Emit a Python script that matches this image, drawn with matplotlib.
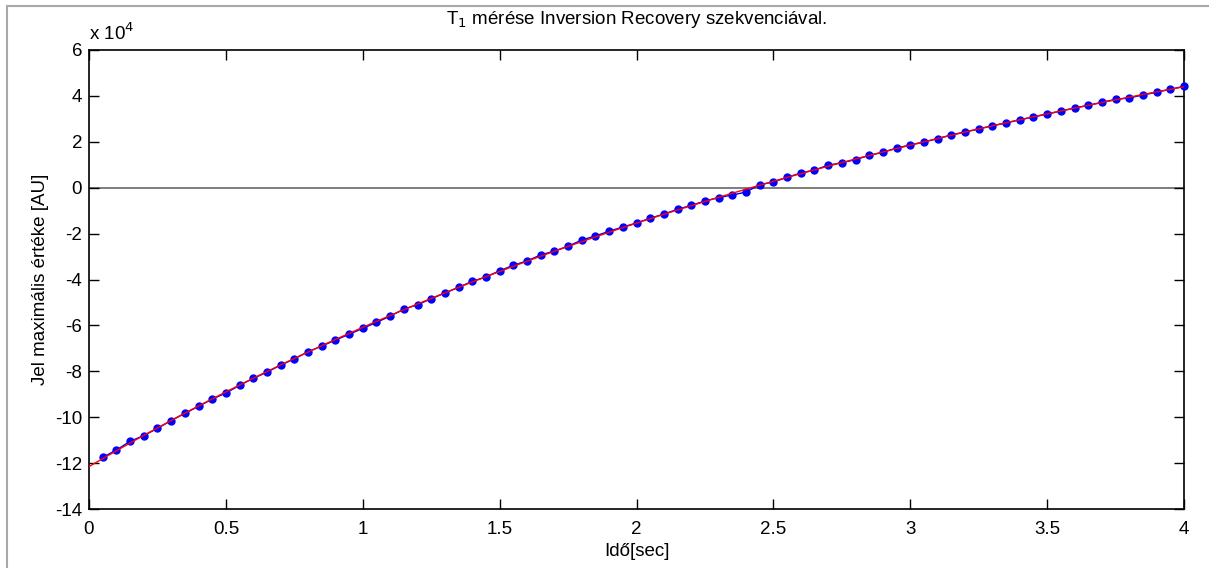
import numpy as np
import matplotlib
matplotlib.use("Agg")
import matplotlib.pyplot as plt
from matplotlib.ticker import FuncFormatter
from matplotlib.patches import Rectangle

plt.rcParams['font.family'] = ['Liberation Sans', 'DejaVu Sans']

# Mérési idők [sec] és a jel maximális értéke [AU]
ido = np.round(np.arange(1, 81) * 0.05, 2)
jel = np.array([
    -11.75, -11.43, -11.05, -10.80, -10.49, -10.15, -9.83, -9.53, -9.21, -8.95,
    -8.61, -8.31, -8.04, -7.73, -7.46, -7.15, -6.90, -6.64, -6.39, -6.13,
    -5.87, -5.60, -5.29, -5.10, -4.84, -4.59, -4.34, -4.08, -3.89, -3.62,
    -3.38, -3.19, -2.93, -2.76, -2.55, -2.28, -2.10, -1.90, -1.71, -1.54,
    -1.33, -1.15, -0.94, -0.77, -0.58, -0.43, -0.32, -0.19, 0.13, 0.25,
    0.45, 0.64, 0.77, 0.98, 1.09, 1.22, 1.41, 1.54, 1.73, 1.86,
    1.99, 2.14, 2.30, 2.43, 2.56, 2.70, 2.82, 2.96, 3.08, 3.21,
    3.34, 3.47, 3.59, 3.72, 3.85, 3.91, 4.04, 4.16, 4.29, 4.42,
]) * 1e4

# Illesztés: S(t) = A - B*exp(-t/T1), T1 rácson keresve, A és B legkisebb négyzetekkel
best = None
for T1 in np.linspace(0.5, 20, 4000):
    M = np.column_stack([np.ones_like(ido), -np.exp(-ido / T1)])
    coef, *_ = np.linalg.lstsq(M, jel, rcond=None)
    err = np.sum((M @ coef - jel) ** 2)
    if best is None or err < best[0]:
        best = (err, T1, coef)
_, T1, (A, B) = best
t_fit = np.linspace(0, 4, 400)
s_fit = A - B * np.exp(-t_fit / T1)

fs = 13.5

fig = plt.figure(figsize=(12.09, 5.68), dpi=100)
fig.patches.append(Rectangle((7 / 1209, -0.1), 1.2, (568 - 6) / 568 + 0.1,
                             transform=fig.transFigure, fill=False,
                             edgecolor='#a8a8a8', lw=1.5))
ax = fig.add_axes([89 / 1209, 1 - 509 / 568, (1184 - 89) / 1209, (509 - 50) / 568])

ax.axhline(0, color='0.45', lw=1.3, zorder=1)
ax.plot(ido, jel, '-', color='blue', lw=1, zorder=2)
ax.plot(ido, jel, 'o', color='blue', ms=5, mec='blue', zorder=3, clip_on=False)
ax.plot(t_fit, s_fit, '-', color='red', lw=1, zorder=4)

ax.set_xlim(0, 4)
ax.set_ylim(-14e4, 6e4)
ax.set_xticks(np.arange(0, 4.01, 0.5))
ax.set_yticks(np.arange(-14e4, 6.01e4, 2e4))
ax.xaxis.set_major_formatter(FuncFormatter(lambda v, p: f"{v:g}"))
ax.yaxis.set_major_formatter(FuncFormatter(lambda v, p: f"{v / 1e4:g}"))
ax.tick_params(direction='in', length=7, width=1, top=True, right=True,
               labelsize=fs)
ax.tick_params(axis='x', pad=9)
ax.tick_params(axis='y', pad=5)
for s in ax.spines.values():
    s.set_linewidth(1.2)

ax.text(0, 1.012, r"x 10$^{4}$", transform=ax.transAxes, fontsize=fs,
        ha='left', va='bottom')
ax.set_title(r"T$_1$ mérése Inversion Recovery szekvenciával.", fontsize=fs, pad=19)
ax.set_xlabel("Idő[sec]", fontsize=fs, labelpad=3)
ax.set_ylabel("Jel maximális értéke [AU]", fontsize=fs, labelpad=4)

fig.savefig("out.png", dpi=100)
